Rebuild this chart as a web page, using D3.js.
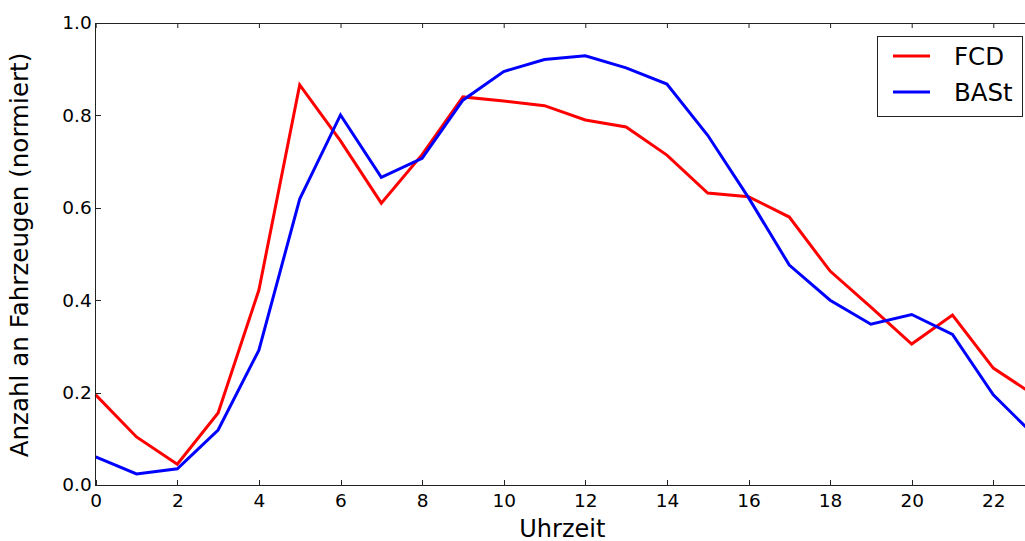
<!DOCTYPE html>
<html>
<head>
<meta charset="utf-8">
<script src="https://cdn.jsdelivr.net/npm/d3@7"></script>
<style>
  body { margin: 0; background: #fff; overflow: hidden; }
  svg { display: block; font-family: "DejaVu Sans", sans-serif; }
</style>
</head>
<body>
<script>
var hours = d3.range(0, 24);
var fcd  = [0.195, 0.104, 0.045, 0.156, 0.422, 0.866, 0.745, 0.610, 0.715, 0.840,
            0.831, 0.821, 0.790, 0.775, 0.714, 0.632, 0.624, 0.580, 0.463, 0.385,
            0.305, 0.368, 0.253, 0.195];
var bast = [0.061, 0.024, 0.035, 0.119, 0.292, 0.619, 0.801, 0.666, 0.707, 0.833,
            0.895, 0.921, 0.929, 0.903, 0.868, 0.757, 0.622, 0.476, 0.400, 0.348,
            0.369, 0.326, 0.195, 0.108];
var xTicks = [0, 2, 4, 6, 8, 10, 12, 14, 16, 18, 20, 22];
var yTicks = [0.0, 0.2, 0.4, 0.6, 0.8, 1.0];
var series = [
  {name: "FCD", values: fcd, color: "#ff0000"},
  {name: "BASt", values: bast, color: "#0000ff"}
];

var margin = {top: 23, left: 95.7},
    width = 938.4,
    height = 462;

var svg = d3.select('body')
            .append('svg')
            .attr('width', 1025)
            .attr('height', 541);

var x = d3.scaleLinear().domain([0, 23]).range([0, width]);
var y = d3.scaleLinear().domain([0, 1]).range([height, 0]);

var g = svg.append('g')
           .attr('transform', 'translate(' + margin.left + ',' + margin.top + ')');

var line = d3.line()
             .x(function(d, i){ return x(hours[i]); })
             .y(function(d){ return y(d); });

g.selectAll('path.series')
 .data(series)
 .enter()
 .append('path')
 .attr('class', 'series')
 .attr('d', function(d){ return line(d.values); })
 .attr('fill', 'none')
 .attr('stroke', function(d){ return d.color; })
 .attr('stroke-width', 3)
 .attr('stroke-linejoin', 'miter');

// frame
g.append('rect')
 .attr('width', width)
 .attr('height', height)
 .attr('fill', 'none')
 .attr('stroke', '#222')
 .attr('stroke-width', 1)
 .attr('shape-rendering', 'crispEdges');

// ticks inside, matplotlib classic style
var xAxis = d3.axisBottom(x).tickValues(xTicks).tickSize(-5).tickPadding(9).tickFormat(d3.format('d'));
var yAxis = d3.axisLeft(y).tickValues(yTicks).tickSize(-5).tickPadding(4).tickFormat(d3.format('.1f'));

var gx = g.append('g')
  .attr('transform', 'translate(0,' + height + ')')
  .call(xAxis);
var gy = g.append('g').call(yAxis);
[gx, gy].forEach(function(a){
  a.select('.domain').remove();
  a.selectAll('line').attr('stroke', '#222').attr('shape-rendering', 'crispEdges');
  a.selectAll('text').attr('font-family', 'DejaVu Sans').attr('font-size', '18.5px').attr('fill', '#000');
});

g.append('g')
 .call(d3.axisTop(x).tickValues(xTicks).tickSize(-5).tickFormat(''))
 .call(function(a){ a.select('.domain').remove(); a.selectAll('line').attr('stroke', '#222'); });

g.append('text')
 .attr('x', (1025 - margin.left) / 2 + 2)
 .attr('y', 513.5)
 .attr('text-anchor', 'middle')
 .attr('font-size', '24px')
 .text('Uhrzeit');

g.append('text')
 .attr('transform', 'translate(-68,' + (height / 2 + 1) + ') rotate(-90)')
 .attr('text-anchor', 'middle')
 .attr('font-size', '24.6px')
 .text('Anzahl an Fahrzeugen (normiert)');

// legend
var leg = svg.append('g').attr('transform', 'translate(877,36)');
leg.append('rect')
   .attr('width', 145)
   .attr('height', 80)
   .attr('fill', '#fff')
   .attr('stroke', '#222')
   .attr('stroke-width', 1)
   .attr('shape-rendering', 'crispEdges');
var item = leg.selectAll('g.item')
   .data(series)
   .enter()
   .append('g')
   .attr('class', 'item')
   .attr('transform', function(d, i){ return 'translate(0,' + (20 + i * 36) + ')'; });
item.append('line')
    .attr('x1', 16).attr('x2', 53)
    .attr('stroke', function(d){ return d.color; })
    .attr('stroke-width', 3);
item.append('text')
    .attr('x', 77)
    .attr('dy', '0.36em')
    .attr('font-size', '24.5px')
    .text(function(d){ return d.name; });
</script>
</body>
</html>
